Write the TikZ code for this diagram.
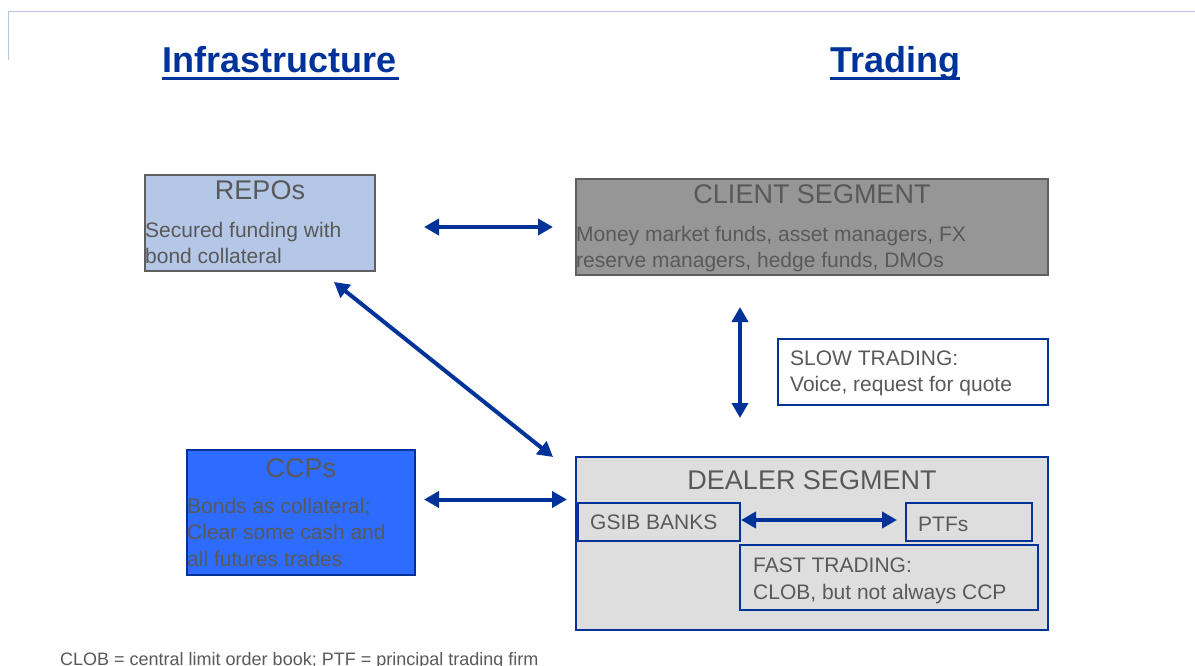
\documentclass[tikz,border=0pt]{standalone}
\usepackage{fontspec}
\setmainfont{Liberation Sans}
\usetikzlibrary{arrows.meta,calc,positioning}
\begin{document}
\begin{tikzpicture}[x=1pt,y=-1pt,
        caja/.style={draw, inner sep=0pt, outer sep=0pt, anchor=north west, line width=2pt},
        titulo/.style={anchor=base, inner sep=0pt, text=tgris, font=\fontsize{27}{32}\selectfont},
        texto/.style={anchor=base west, inner sep=0pt, align=left, text=tgris, font=\fontsize{21}{26.5}\selectfont},
        encabezado/.style={anchor=base west, inner sep=0pt, text=azul, font=\fontsize{36}{40}\selectfont\bfseries},
        flecha/.style={{Triangle[length=15pt,width=16pt]}-{Triangle[length=15pt,width=16pt]}, line width=4pt, azul}]
        %colores
        \definecolor{azul}{HTML}{003399}
        \definecolor{tgris}{HTML}{595959}
        \definecolor{gris}{HTML}{5F5F5F}
        \definecolor{repofill}{HTML}{B4C7E7}
        \definecolor{clientfill}{HTML}{969696}
        \definecolor{dealerfill}{HTML}{DEDEDE}
        \definecolor{ccpfill}{HTML}{2E6BFF}

        \useasboundingbox (0,0) rectangle (1195,666);

        %marco
        \draw[repofill, line width=1pt] (8,60) -- (8,12) -- (1195,12);

        %encabezados
        \node[encabezado] (infra) at (162,73) {Infrastructure};
        \node[encabezado] (trading) at (830,73) {Trading};
        \draw[azul, line width=3pt] ($(infra.base west)+(0,6)$) -- ($(infra.base east)+(3,6)$);
        \draw[azul, line width=3pt] ($(trading.base west)+(0,6)$) -- ($(trading.base east)+(0,6)$);

        %cajas (texto: base = ultima linea)
        \node[caja, draw=gris, fill=repofill, minimum width=230pt, minimum height=96pt] (repos) at (145,175) {};
        \node[titulo] (repos-t) at ($(repos.north)+(0,25)$) {REPOs};
        \node[texto] (repos-b) at ($(repos.north west)+(0,88.5)$) {Secured funding with\\bond collateral};

        \node[caja, draw=gris, fill=clientfill, minimum width=472pt, minimum height=96pt] (client) at (576,179) {};
        \node[titulo] (client-t) at ($(client.north)+(0,25)$) {CLIENT SEGMENT};
        \node[texto] (client-b) at ($(client.north west)+(0,88.5)$) {Money market funds, asset managers, FX\\reserve managers, hedge funds, DMOs};

        \node[caja, draw=azul, fill=white, minimum width=270pt, minimum height=66pt] (slow) at (778,339) {};
        \node[texto] (slow-b) at ($(slow.north west)+(12,52.5)$) {SLOW TRADING:\\Voice, request for quote};

        \node[caja, draw=azul, fill=ccpfill, minimum width=228pt, minimum height=125pt] (ccps) at (187,450) {};
        \node[titulo] (ccps-t) at ($(ccps.north)+(0,27)$) {CCPs};
        \node[texto] (ccps-b) at ($(ccps.north west)+(0,116)$) {Bonds as collateral;\\Clear some cash  and\\all futures trades};

        \node[caja, draw=azul, fill=dealerfill, minimum width=472pt, minimum height=173pt] (dealer) at (576,457) {};
        \node[titulo] (dealer-t) at ($(dealer.north)+(0,32)$) {DEALER SEGMENT};

        \node[caja, draw=azul, minimum width=162pt, minimum height=38pt] (gsib) at (578,503) {};
        \node[texto] (gsib-b) at ($(gsib.north west)+(12,26)$) {GSIB BANKS};
        \node[caja, draw=azul, minimum width=126pt, minimum height=38pt] (ptfs) at (906,503) {};
        \node[texto] (ptfs-b) at ($(ptfs.north west)+(12,28)$) {PTFs};
        \node[caja, draw=azul, minimum width=298pt, minimum height=65pt] (fast) at (740,545) {};
        \node[texto] (fast-b) at ($(fast.north west)+(13,54)$) {FAST TRADING:\\CLOB, but not always CCP};

        %flechas
        \draw[flecha, shorten <=49pt, shorten >=23pt] (repos.east |- client.west) -- (client.west);
        \draw[flecha] ($(repos.south)+(74,11)$) -- ($(dealer.north west)+(-23,0)$);
        \draw[flecha, shorten <=32pt, shorten >=39pt] ($(client.south)+(-72,0)$) -- ($(dealer.north)+(-72,0)$);
        \coordinate (c1) at ($(ccps.east)+(0,-13)$);
        \draw[flecha, shorten <=9pt, shorten >=9pt] (c1) -- (c1 -| dealer.west);
        \draw[flecha, shorten <=1pt, shorten >=9pt] ($(gsib.east)+(0,-2)$) -- ($(ptfs.west)+(0,-2)$);

        %nota
        \node[anchor=base west, inner sep=0pt, text=tgris, font=\fontsize{18}{20}\selectfont] (nota) at (60,665) {CLOB = central limit order book; PTF = principal trading firm};
    \end{tikzpicture}
\end{document}
